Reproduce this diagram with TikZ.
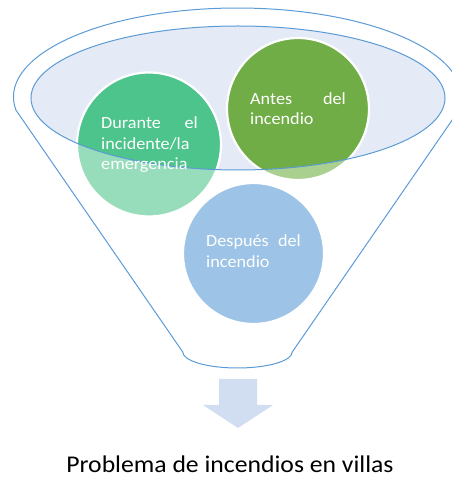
\documentclass[tikz,border=0pt]{standalone}
\usepackage{fontspec}
\newfontfamily\calf[FakeStretch=1.07]{Carlito}
\definecolor{funnelblue}{HTML}{5B9BD5}
\definecolor{ellfill}{HTML}{E4EBF6}
\definecolor{durD}{HTML}{4DC48C}
\definecolor{durL}{HTML}{97DDBB}
\definecolor{antD}{HTML}{70AD47}
\definecolor{antL}{HTML}{A9D08E}
\definecolor{despC}{HTML}{9DC3E6}
\definecolor{arrowc}{HTML}{D1DDF0}
\tikzset{
  outline/.style={draw=funnelblue, line width=1pt},
  ringwhite/.style={draw=white, line width=2.2pt},
  ctext/.style={text=white, font=\calf\fontsize{17}{20}\selectfont, inner sep=0pt},
  ttext/.style={text=black, font=\calf\fontsize{24}{29}\selectfont, inner sep=0pt, text depth=0pt}
}
\begin{document}
\begin{tikzpicture}[x=1pt,y=1pt]
\useasboundingbox (0,0) rectangle (452,477);
\clip (0,0) rectangle (452,477);
% funnel outline
\coordinate (fl) at (15.9,367);
\coordinate (fbr) at (292.25,125);
\draw[outline] (fl) arc[start angle=188.4,end angle=-8.4,x radius=224,y radius=89]
  -- (fbr) arc[start angle=0,end angle=-180,x radius=54.75,y radius=16] -- cycle;
% inner ellipse fill
\fill[ellfill] (238,379) ellipse [x radius=207,y radius=72];
% circles (light parts)
\fill[durL] (149,332.5) circle (72);
\fill[antL] (298,368) circle (71);
\fill[despC] (253.5,223.5) circle (70.5);
% dark parts inside ellipse
\begin{scope}
  \clip (238,379) ellipse [x radius=207,y radius=72];
  \fill[durD] (149,332.5) circle (72);
  \fill[antD] (298,368) circle (71);
\end{scope}
% white rings
\draw[ringwhite] (149,332.5) circle (72);
\draw[ringwhite] (298,368) circle (71);
\draw[ringwhite] (253.5,223.5) circle (70.5);
% ellipse outline on top
\draw[outline] (238,379) ellipse [x radius=207,y radius=72];
% texts
\node[ctext, anchor=base west] (d1) at (101,348) {Durante};
\node[ctext, anchor=base east] (d1b) at (198,348) {el};
\node[ctext, anchor=base west] (d2) at (101,327.5) {incidente/la};
\node[ctext, anchor=base west] (d3) at (101,307) {emergencia};
\node[ctext, anchor=base west] (a1) at (250,372) {Antes};
\node[ctext, anchor=base east] (a1b) at (346,372) {del};
\node[ctext, anchor=base west] (a2) at (250,352) {incendio};
\node[ctext, anchor=base west] (p1) at (206,230) {Después};
\node[ctext, anchor=base east] (p1b) at (301,230) {del};
\node[ctext, anchor=base west] (p2) at (206,209.5) {incendio};
% arrow
\fill[arrowc] (219,98) -- (257,98) -- (257,72) -- (273,72) -- (238,49) -- (203,72) -- (219,72) -- cycle;
% title
\node[ttext, anchor=base] (title) at (230,5) {Problema de incendios en villas};
\end{tikzpicture}
\end{document}
